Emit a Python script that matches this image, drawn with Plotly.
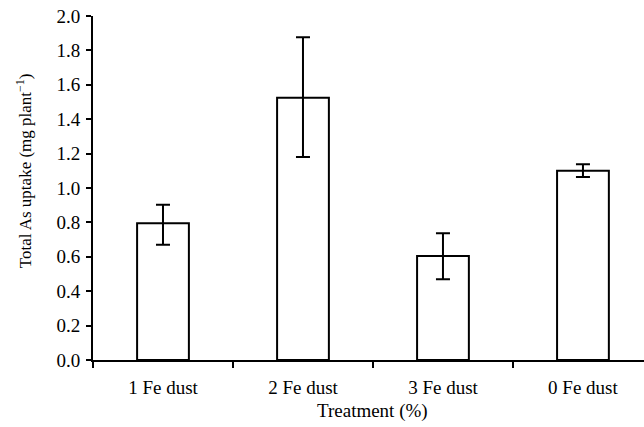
import plotly.graph_objects as go

categories = ["1 Fe dust", "2 Fe dust", "3 Fe dust", "0 Fe dust"]
uptake = [0.795, 1.525, 0.605, 1.100]
err_plus = [0.108, 0.351, 0.132, 0.038]
err_minus = [0.125, 0.345, 0.136, 0.036]
y_ticks = [0.0, 0.2, 0.4, 0.6, 0.8, 1.0, 1.2, 1.4, 1.6, 1.8, 2.0]

FONT = "Liberation Serif"

fig = go.Figure()
fig.add_trace(go.Bar(
    x=categories,
    y=uptake,
    width=0.37,
    marker=dict(color="white", line=dict(color="black", width=2)),
    error_y=dict(type="data", symmetric=False, array=err_plus, arrayminus=err_minus,
                 color="black", thickness=2, width=7),
))

fig.update_layout(
    template="none",
    width=644, height=427,
    margin=dict(l=93, r=0, t=16, b=67),
    paper_bgcolor="white", plot_bgcolor="white",
    showlegend=False,
    font=dict(family=FONT, size=19, color="black"),
    xaxis=dict(
        type="category",
        range=[-0.5, 3.436],
        showline=True, linecolor="black", linewidth=2,
        ticks="outside", tickson="boundaries", ticklen=6, tickwidth=2, tickcolor="black",
        showgrid=False, zeroline=False, automargin=False,
        ticklabelstandoff=9,
        tickfont=dict(family=FONT, size=19, color="black"),
    ),
    yaxis=dict(
        range=[0, 2.0],
        tickvals=y_ticks,
        ticktext=[f"{v:.1f}" for v in y_ticks],
        showline=True, linecolor="black", linewidth=2,
        ticks="outside", ticklen=5, tickwidth=2, tickcolor="black",
        showgrid=False, zeroline=False, automargin=False,
        ticklabeloverflow="allow", ticklabelstandoff=2,
        tickfont=dict(family=FONT, size=19, color="black"),
    ),
    annotations=[
        dict(text="Total As uptake (mg plant<sup>\u22121</sup>)", textangle=-90,
             xref="paper", yref="paper", x=-0.125, y=0.549,
             xanchor="center", yanchor="middle", showarrow=False,
             font=dict(family=FONT, size=17, color="#000000")),
        dict(text="Treatment (%)", xref="x", yref="paper", x=1.5, y=-0.148,
             xanchor="center", yanchor="middle", showarrow=False,
             font=dict(family=FONT, size=19, color="#000000")),
    ],
)

fig.write_html("out.html", config={"displayModeBar": False},
               post_script="document.body.style.margin='0';")
